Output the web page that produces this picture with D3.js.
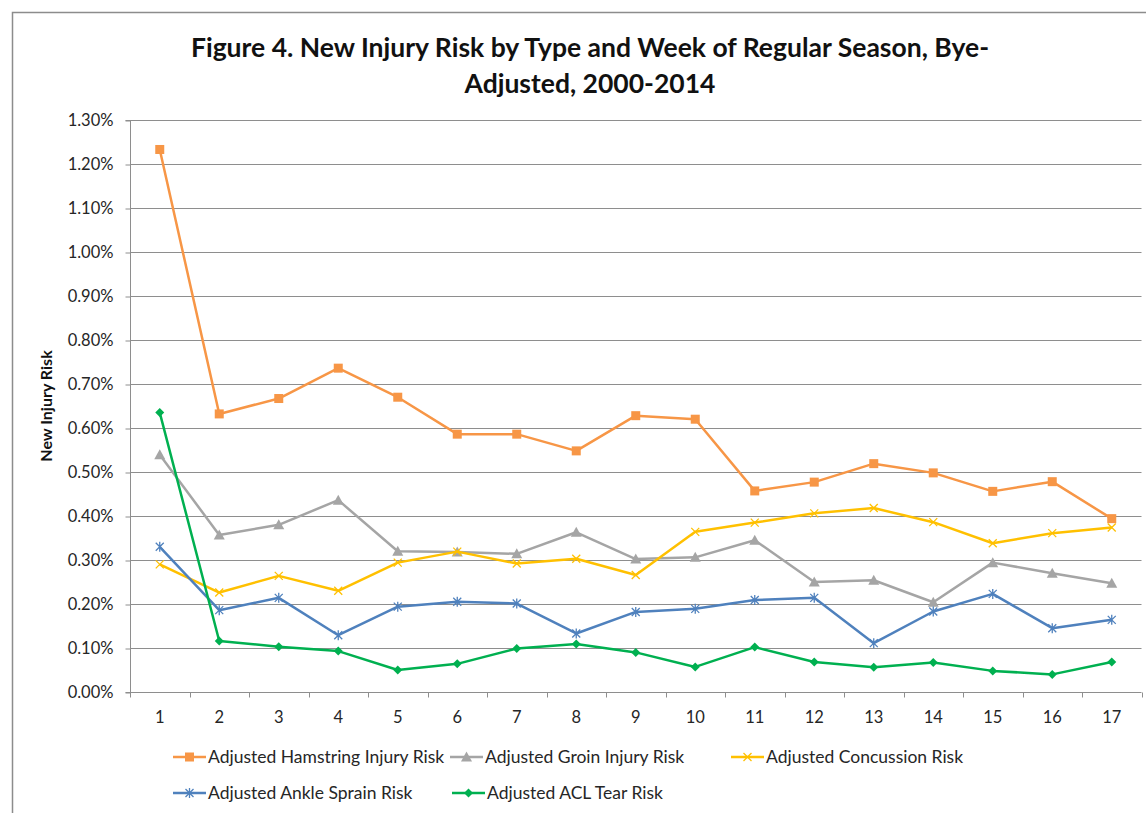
<!DOCTYPE html>
<html>
<head>
<meta charset="utf-8">
<script src="https://cdn.jsdelivr.net/npm/d3@7"></script>
<style>
  html, body { margin: 0; padding: 0; background: #fff; }
  svg { display: block; }
  text { font-family: Lato, "Open Sans", sans-serif; fill: #262626; }
</style>
</head>
<body>
<svg id="chart" width="1146" height="813"></svg>
<script>
// ---- data ----
const weeks = [1,2,3,4,5,6,7,8,9,10,11,12,13,14,15,16,17];
const hamstring = [1.233,0.632,0.667,0.736,0.670,0.586,0.586,0.548,0.628,0.620,0.457,0.477,0.519,0.498,0.456,0.478,0.394];
const groin     = [0.539,0.357,0.380,0.436,0.320,0.318,0.314,0.363,0.302,0.306,0.345,0.250,0.254,0.204,0.294,0.270,0.247];
const concussion= [0.290,0.226,0.264,0.230,0.294,0.319,0.292,0.303,0.266,0.364,0.385,0.406,0.418,0.386,0.338,0.361,0.374];
const ankle     = [0.330,0.186,0.214,0.129,0.194,0.205,0.201,0.133,0.182,0.189,0.209,0.214,0.111,0.183,0.223,0.145,0.164];
const acl       = [0.635,0.116,0.103,0.093,0.050,0.064,0.099,0.109,0.090,0.057,0.102,0.068,0.056,0.067,0.048,0.040,0.068];
const seriesNames = ["Adjusted Hamstring Injury Risk","Adjusted Groin Injury Risk","Adjusted Concussion Risk","Adjusted Ankle Sprain Risk","Adjusted ACL Tear Risk"];
const yTicks = [0,0.1,0.2,0.3,0.4,0.5,0.6,0.7,0.8,0.9,1.0,1.1,1.2,1.3];
const titleLines = ["Figure 4. New Injury Risk by Type and Week of Regular Season, Bye-","Adjusted, 2000-2014"];
const yTitle = "New Injury Risk";

// ---- styles ----
const series = [
  {name: seriesNames[0], values: hamstring,  color: "#F79646", marker: "square"},
  {name: seriesNames[1], values: groin,      color: "#A5A5A5", marker: "triangle"},
  {name: seriesNames[2], values: concussion, color: "#FFC000", marker: "x"},
  {name: seriesNames[3], values: ankle,      color: "#4F81BD", marker: "star"},
  {name: seriesNames[4], values: acl,        color: "#00B050", marker: "diamond"}
];

const svg = d3.select("#chart");
const plot = {left: 130, right: 1141.5, top: 120, bottom: 692};

// outer chart border (top & left visible)
svg.append("path")
  .attr("d", "M12.5,813 L12.5,12.5 L1146,12.5")
  .attr("fill", "none").attr("stroke", "#8c8c8c").attr("stroke-width", 1.5);

// title
const title = svg.append("text")
  .attr("text-anchor", "middle")
  .style("font-weight", "bold").style("font-size", "26.5px").style("fill", "#111");
title.selectAll("tspan").data(titleLines).join("tspan")
  .attr("x", 590).attr("y", (d,i) => 57 + i*36).text(d => d);

const x = d3.scaleBand().domain(weeks).range([plot.left, plot.right]).padding(0);
const cx = w => x(w) + x.bandwidth()/2;
const y = d3.scaleLinear().domain([0, 1.3]).range([plot.bottom, plot.top]);

// gridlines
svg.append("g").selectAll("line").data(yTicks.filter(t => t > 0)).join("line")
  .attr("x1", plot.left).attr("x2", plot.right)
  .attr("y1", d => Math.round(y(d)) + 0.5).attr("y2", d => Math.round(y(d)) + 0.5)
  .attr("stroke", "#8e8e8e").attr("stroke-width", 1);

// y axis
const yAxis = d3.axisLeft(y).tickValues(yTicks).tickSize(5).tickPadding(12)
  .tickFormat(d => d.toFixed(2) + "%");
const gy = svg.append("g").attr("transform", `translate(${plot.left + 0.5},0.5)`).call(yAxis);
gy.select(".domain").attr("stroke", "#8e8e8e").attr("d", `M-5,${plot.bottom}H0V${plot.top}H-5`);
gy.selectAll(".tick line").attr("stroke", "#8e8e8e");
gy.selectAll(".tick text").style("font-size", "16.5px").style("font-family", "Lato, sans-serif").attr("fill", "#262626");

// x axis
const xAxis = d3.axisBottom(x).tickSize(0).tickPadding(19);
const gx = svg.append("g").attr("transform", `translate(0,${plot.bottom + 0.5})`).call(xAxis);
gx.select(".domain").attr("stroke", "#8e8e8e").attr("d", `M${plot.left},0H${plot.right}`);
gx.selectAll(".tick text").style("font-size", "16.5px").style("font-family", "Lato, sans-serif").attr("fill", "#262626");
// category boundary ticks
const bounds = weeks.map(w => x(w)).concat([plot.right]);
gx.append("g").selectAll("line").data(bounds).join("line")
  .attr("x1", d => Math.round(d) + 0.5).attr("x2", d => Math.round(d) + 0.5)
  .attr("y1", 0).attr("y2", 5).attr("stroke", "#8e8e8e");

// y title
svg.append("text")
  .attr("transform", `translate(52,${(plot.top + plot.bottom)/2}) rotate(-90)`)
  .attr("text-anchor", "middle")
  .style("font-weight", "bold").style("font-size", "16px").style("fill", "#111")
  .text(yTitle);

// marker drawing
function drawMarker(g, type, color, px, py) {
  if (type === "square") {
    g.append("rect").attr("x", px - 4.5).attr("y", py - 4.5).attr("width", 9).attr("height", 9).attr("fill", color);
  } else if (type === "triangle") {
    g.append("path").attr("d", `M${px},${py-5.5}L${px+5.5},${py+4.5}L${px-5.5},${py+4.5}Z`).attr("fill", color);
  } else if (type === "x") {
    g.append("path").attr("d", `M${px-4},${py-4}L${px+4},${py+4}M${px-4},${py+4}L${px+4},${py-4}`)
      .attr("stroke", color).attr("stroke-width", 1.3).attr("fill", "none");
  } else if (type === "star") {
    g.append("path").attr("d", `M${px-4},${py-4}L${px+4},${py+4}M${px-4},${py+4}L${px+4},${py-4}M${px},${py-5}L${px},${py+5}`)
      .attr("stroke", color).attr("stroke-width", 1.3).attr("fill", "none");
  } else if (type === "diamond") {
    g.append("path").attr("d", `M${px},${py-4.5}L${px+4.5},${py}L${px},${py+4.5}L${px-4.5},${py}Z`).attr("fill", color);
  }
}

// lines & markers
const line = d3.line().x((d,i) => cx(weeks[i])).y(d => y(d));
series.forEach(s => {
  const g = svg.append("g");
  g.append("path").datum(s.values).attr("d", line)
    .attr("fill", "none").attr("stroke", s.color).attr("stroke-width", 2.5)
    .attr("stroke-linejoin", "round");
  s.values.forEach((v, i) => drawMarker(g, s.marker, s.color, cx(weeks[i]), y(v)));
});

// legend
const legendPos = [[173,757],[450,757],[731,757],[173,793],[452,793]];
series.forEach((s, i) => {
  const [lx, ly] = legendPos[i];
  const g = svg.append("g");
  g.append("line").attr("x1", lx).attr("x2", lx + 33).attr("y1", ly).attr("y2", ly)
    .attr("stroke", s.color).attr("stroke-width", 2.5);
  drawMarker(g, s.marker, s.color, lx + 16.5, ly);
  g.append("text").attr("x", lx + 35).attr("y", ly + 6)
    .style("font-size", "17.5px").text(s.name);
});
</script>
</body>
</html>
